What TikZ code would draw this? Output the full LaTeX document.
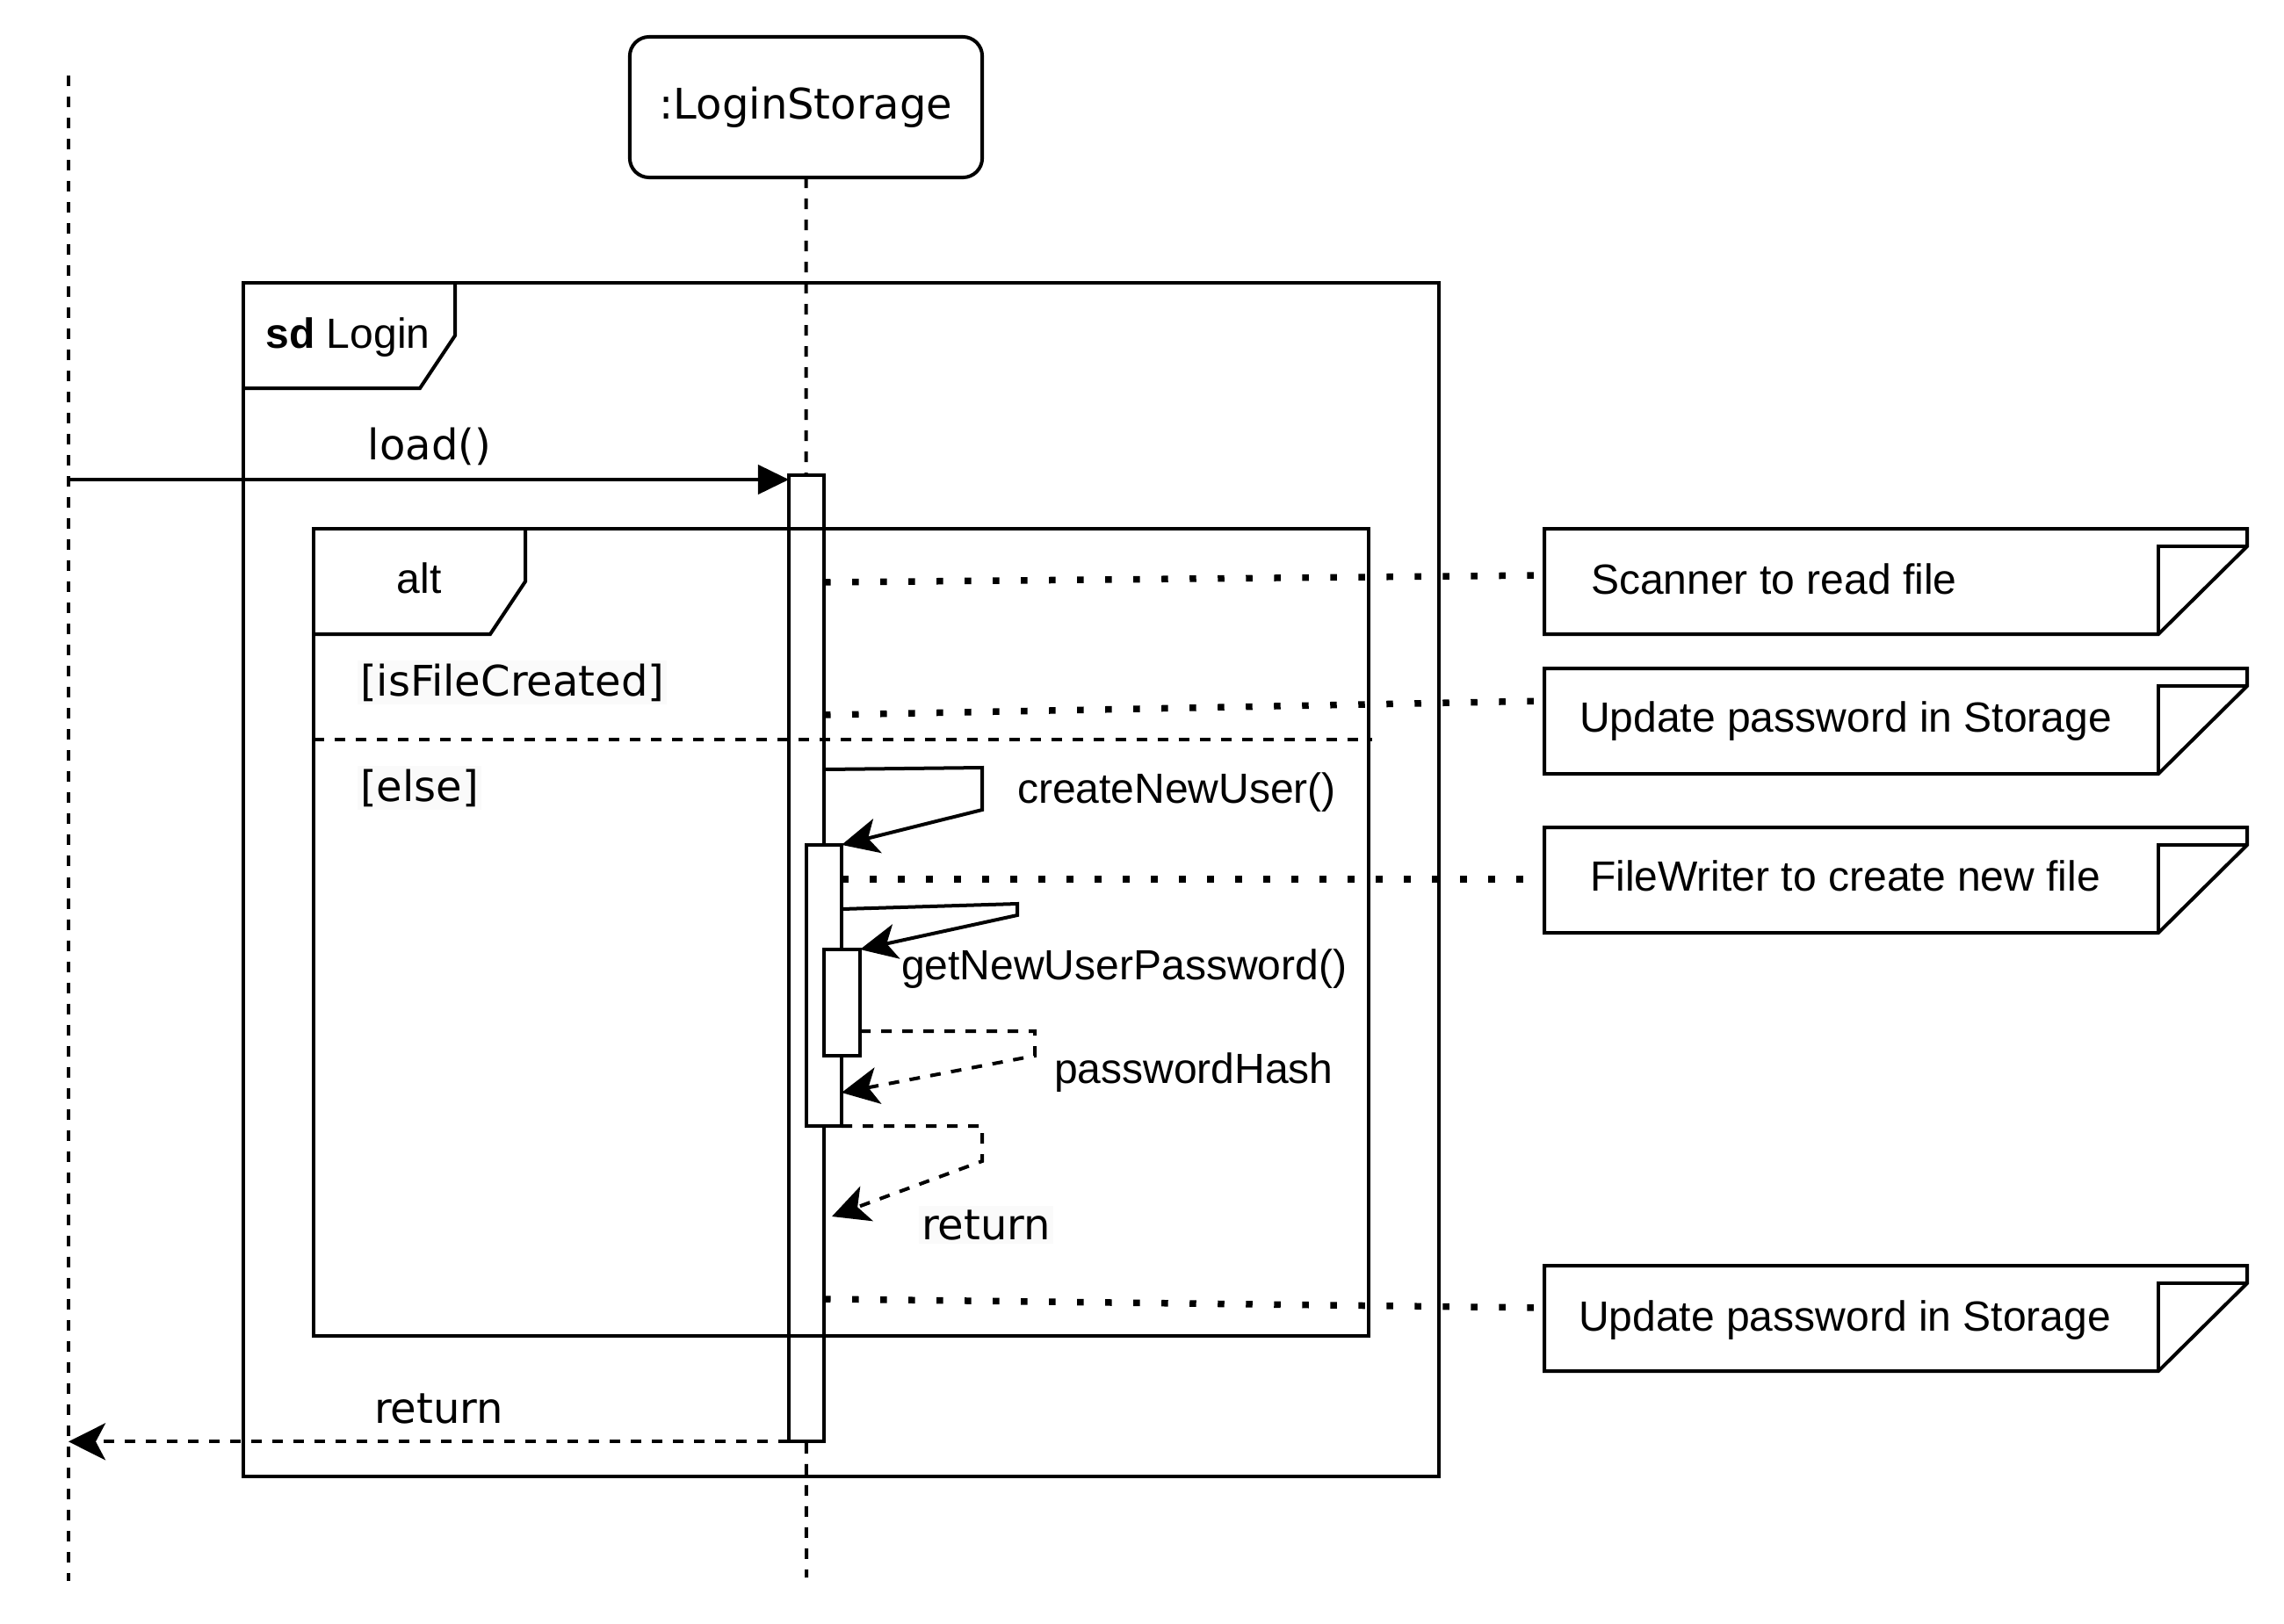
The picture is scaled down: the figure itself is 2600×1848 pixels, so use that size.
\documentclass[tikz,border=0pt]{standalone}
\usepackage{fontspec}
\setmainfont{Liberation Sans}
\newfontfamily\dvs{DejaVu Sans}
\usetikzlibrary{arrows.meta,calc}
\newcommand\umlnote[1]{%
  \draw[ln, fill=white] (1758,#1) -- (2558,#1) -- (2558,#1+20) -- (2457,#1+120) -- (1758,#1+120) -- cycle;
  \draw[ln] (2558,#1+20) -- (2457,#1+20) -- (2457,#1+120);
}
\begin{document}
\begin{tikzpicture}[x=0.01cm,y=-0.01cm,
  every node/.style={inner sep=0pt, outer sep=0pt, font=\fontsize{13.66pt}{16pt}\selectfont},
  ln/.style={line width=0.04cm},
  dsh/.style={line width=0.04cm, dash pattern=on 0.12cm off 0.12cm},
  dotc/.style={line width=0.075cm, dash pattern=on 0.075cm off 0.245cm},
  callmsg/.style={ln, -{Stealth[length=0.42cm,width=0.40cm,inset=0.11cm]}},
  retmsg/.style={dsh, -{Stealth[length=0.42cm,width=0.42cm,inset=0.11cm]}},
  syncmsg/.style={ln, -{Triangle[length=0.35cm,width=0.33cm]}},
  bar/.style={draw, ln, fill=white, minimum width=0.40cm},
  dv/.style={font=\dvs\fontsize{13.66pt}{16pt}\selectfont},
  gbg/.style={fill={rgb,255:red,250;green,250;blue,250}, inner xsep=0.03cm, inner ysep=0.04cm},
]
\useasboundingbox[fill=white] (0,0) rectangle (2600,1848);

% lifeline heads
\node[draw, ln, rounded corners=0.22cm, minimum width=4.01cm, minimum height=1.60cm, dv] (ls) at (917.5,122) {:LoginStorage};
\coordinate (L0) at (78,86);
\coordinate (L1) at (78,1800);
\coordinate (S1) at (918,1796);

% lifelines
\draw[dsh] (L0) -- (L1);
\draw[dsh] (ls.south) -- (S1);

% sd frame
\draw[ln] (277,322) rectangle (1638,1681);
\draw[ln] (277,442) -- (478,442) -- (518,382) -- (518,322);
\node[anchor=base] (sdl) at (396,396) {\textbf{sd} Login};

% activation bars
\node[bar, minimum height=11.00cm] (b1) at (918,1091) {};
\node[bar, minimum height=3.20cm] (b2) at (938,1122) {};
\node[bar, minimum width=0.41cm, minimum height=1.21cm] (b3) at (958.5,1141.5) {};

% alt frame (drawn over the bars)
\draw[ln] (357,602) rectangle (1558,1521);
\draw[ln] (357,722) -- (558,722) -- (598,662) -- (598,602);
\node[anchor=base] (altl) at (477,675) {alt};
\draw[dsh] (357,842) -- (1562,842);
\node[anchor=base west, dv, gbg] (g1) at (407,792) {[isFileCreated]};
\node[anchor=base west, dv, gbg] (g2) at (407,912) {[else]};

% load()
\draw[syncmsg] (L0 |- 0,546) -- (b1.west |- 0,546);
\node[anchor=base, dv] (m1) at (489,523) {load()};

% createNewUser()
\draw[callmsg] (b1.east |- 0,876) -- (1118,874) -- (1118,922) -- (b2.north east);
\node[anchor=base west] (m2) at (1158,914) {createNewUser()};

% getNewUserPassword()
\draw[callmsg] (b2.east |- 0,1035) -- (1158,1029) -- (1158,1042) -- (b3.north east);
\node[anchor=base west] (m3) at (1026,1115) {getNewUserPassword()};

% passwordHash
\draw[retmsg] (b3.east |- 0,1174) -- (1178,1174) -- (1178,1202) -- (b2.east |- 0,1244);
\node[anchor=base west] (m4) at (1200,1233) {passwordHash};

% inner return
\coordinate (r1) at (947,1385);
\draw[retmsg] (b2.south east) -- (1118,1282) -- (1118,1322) -- (r1);
\node[anchor=base west, dv, gbg] (m5) at (1046,1411) {return};

% outer return
\draw[retmsg] (b1.south west) -- (L0 |- b1.south);
\node[anchor=base west, dv] (m6) at (426,1620) {return};

% notes
\umlnote{602}
\umlnote{761}
\umlnote{942}
\umlnote{1441}
\node[anchor=base west] (n1) at (1811,676) {Scanner to read file};
\node[anchor=base west] (n2) at (1798,833) {Update password in Storage};
\node[anchor=base west] (n3) at (1810,1014) {FileWriter to create new file};
\node[anchor=base west] (n4) at (1797,1515) {Update password in Storage};

% note connectors
\coordinate (e1) at (1758,655);
\coordinate (e2) at (1758,798);
\coordinate (e3) at (1758,1001);
\coordinate (e4) at (1758,1489);
\draw[dotc] (b1.east |- 0,663) -- (e1);
\draw[dotc] (b1.east |- 0,814) -- (e2);
\draw[dotc] (b2.east |- 0,1001) -- (e3);
\draw[dotc] (b1.east |- 0,1479) -- (e4);
\end{tikzpicture}
\end{document}
